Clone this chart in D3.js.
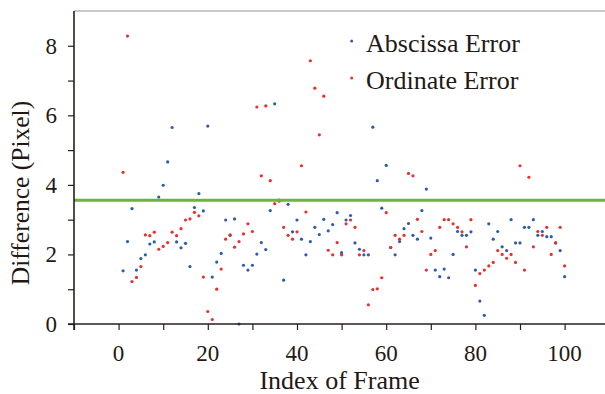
<!DOCTYPE html>
<html>
<head>
<meta charset="utf-8">
<script src="https://cdn.jsdelivr.net/npm/d3@7"></script>
<style>
  html, body { margin: 0; padding: 0; background: #fff; }
  svg { display: block; }
  text { font-family: "Liberation Serif", "Times New Roman", serif; fill: #231815; }
</style>
</head>
<body>
<svg id="chart" width="605" height="394"></svg>
<script>
const frames = [1,2,3,4,5,6,7,8,9,10,11,12,13,14,15,16,17,18,19,20,
  21,22,23,24,25,26,27,28,29,30,31,32,33,34,35,36,37,38,39,40,
  41,42,43,44,45,46,47,48,49,50,51,52,53,54,55,56,57,58,59,60,
  61,62,63,64,65,66,67,68,69,70,71,72,73,74,75,76,77,78,79,80,
  81,82,83,84,85,86,87,88,89,90,91,92,93,94,95,96,97,98,99,100];

const abscissaError = [1.53,2.37,3.32,1.55,1.88,1.99,2.30,2.36,3.65,3.99,
  4.66,5.65,2.36,2.19,2.32,1.65,3.35,3.75,3.25,5.69,
  1.35,1.78,2.03,2.99,2.55,3.02,0.00,1.69,1.55,1.69,
  2.01,2.34,2.14,3.26,6.33,3.56,1.26,3.44,2.65,2.99,
  2.44,1.99,2.37,2.78,2.57,3.01,2.68,2.86,3.20,2.05,
  2.99,3.12,2.33,2.15,1.99,1.99,5.66,4.12,3.33,4.56,
  2.20,1.99,2.37,2.74,2.89,2.55,2.44,3.26,3.88,2.47,
  1.55,1.36,1.58,1.33,2.00,2.66,2.55,2.55,2.65,1.55,
  0.66,0.25,2.88,2.44,2.66,2.22,2.11,3.00,2.33,2.33,
  2.78,2.78,3.00,2.55,2.66,2.51,2.51,2.33,2.11,1.36];

const ordinateError = [4.36,8.28,1.22,1.34,1.65,2.56,2.54,2.64,2.15,2.23,
  2.34,2.64,2.54,2.74,2.99,3.02,3.21,3.11,1.35,0.36,
  0.13,1.00,1.58,2.44,2.56,2.21,2.37,2.59,2.88,2.66,
  6.24,4.26,6.27,4.12,3.46,3.53,2.78,2.55,2.44,2.65,
  4.55,3.22,7.57,6.78,5.44,6.55,2.12,1.99,2.34,1.99,
  2.88,2.99,2.78,1.99,2.11,0.55,0.99,1.01,1.33,3.20,
  2.20,2.55,2.44,2.55,4.33,4.26,3.01,2.66,1.55,2.00,
  2.11,2.78,3.00,3.00,2.88,2.78,2.65,2.22,3.00,1.11,
  1.45,1.55,1.67,1.77,2.11,2.00,1.89,2.00,1.77,4.55,
  1.55,4.22,2.22,2.66,2.55,2.78,2.00,2.33,2.78,1.67];

const thresholdValue = [3.56];
const xTickValues = [-10,0,10,20,30,40,50,60,70,80,90,100];
const xTickLabels = [0,20,40,60,80,100];
const yTickValues = [0,1,2,3,4,5,6,7,8];
const yTickLabels = [0,2,4,6,8];
const seriesNames = ["Abscissa Error", "Ordinate Error"];
const seriesColors = ["#2b5cae", "#e8302c"];
const xTitle = "Index of Frame";
const yTitle = "Difference (Pixel)";

const svg = d3.select("#chart");
const x = d3.scaleLinear().domain([-10, 110]).range([74, 609.2]);
const y = d3.scaleLinear().domain([0, 9]).range([324, 11]);

// top frame line
svg.append("line")
  .attr("x1", x(-10)).attr("x2", 605)
  .attr("y1", y(9)).attr("y2", y(9))
  .attr("stroke", "#c9c9c9").attr("stroke-width", 2.2);

// points
const seriesData = [abscissaError, ordinateError];
seriesData.forEach((vals, si) => {
  svg.append("g").selectAll("circle")
    .data(frames.map((f, i) => ({f, v: vals[i]})))
    .join("circle")
    .attr("cx", d => x(d.f))
    .attr("cy", d => y(d.v))
    .attr("r", 1.6)
    .attr("fill", seriesColors[si]);
});

// threshold line
svg.append("line")
  .attr("x1", x(-10)).attr("x2", 605)
  .attr("y1", y(thresholdValue[0])).attr("y2", y(thresholdValue[0]))
  .attr("stroke", "#6fb23f").attr("stroke-width", 3);

// axes
const axisColor = "#2a1e1c";
const xAxis = d3.axisBottom(x).tickValues(xTickValues)
  .tickSize(6).tickFormat("");
const gx = svg.append("g").attr("transform", `translate(0,${y(0)})`).call(xAxis);
gx.select(".domain").remove();
gx.selectAll("line").attr("stroke", axisColor).attr("stroke-width", 1.2);
svg.append("line").attr("x1", x(-10) - 6).attr("x2", 605)
  .attr("y1", y(0)).attr("y2", y(0))
  .attr("stroke", axisColor).attr("stroke-width", 1.6);

svg.append("g").selectAll("text")
  .data(xTickLabels).join("text")
  .attr("x", d => x(d)).attr("y", 361)
  .attr("text-anchor", "middle")
  .attr("font-size", 23)
  .text(d => d);

const yAxis = d3.axisLeft(y).tickValues(yTickValues).tickSize(6).tickFormat("");
const gy = svg.append("g").attr("transform", `translate(${x(-10)},0)`).call(yAxis);
gy.select(".domain").remove();
gy.selectAll("line").attr("stroke", axisColor).attr("stroke-width", 1.2);
svg.append("line").attr("x1", x(-10)).attr("x2", x(-10))
  .attr("y1", y(9)).attr("y2", y(0) + 6)
  .attr("stroke", axisColor).attr("stroke-width", 1.6);

svg.append("g").selectAll("text")
  .data(yTickLabels).join("text")
  .attr("x", 57).attr("y", d => y(d))
  .attr("dy", "0.34em")
  .attr("text-anchor", "end")
  .attr("font-size", 23)
  .text(d => d);

// axis titles
svg.append("text")
  .attr("x", (x(0) + x(100)) / 2 - 2).attr("y", 389)
  .attr("text-anchor", "middle")
  .attr("font-size", 26)
  .text(xTitle);

svg.append("text")
  .attr("transform", `translate(29,${193}) rotate(-90)`)
  .attr("text-anchor", "middle")
  .attr("font-size", 25.5)
  .text(yTitle);

// legend
const legY = [41, 78];
seriesNames.forEach((name, i) => {
  svg.append("circle").attr("cx", 351.7).attr("cy", legY[i]).attr("r", 1.5)
    .attr("fill", seriesColors[i]);
  svg.append("text").attr("x", 366).attr("y", legY[i] + 10.5)
    .attr("font-size", 26)
    .text(name);
});
</script>
</body>
</html>
